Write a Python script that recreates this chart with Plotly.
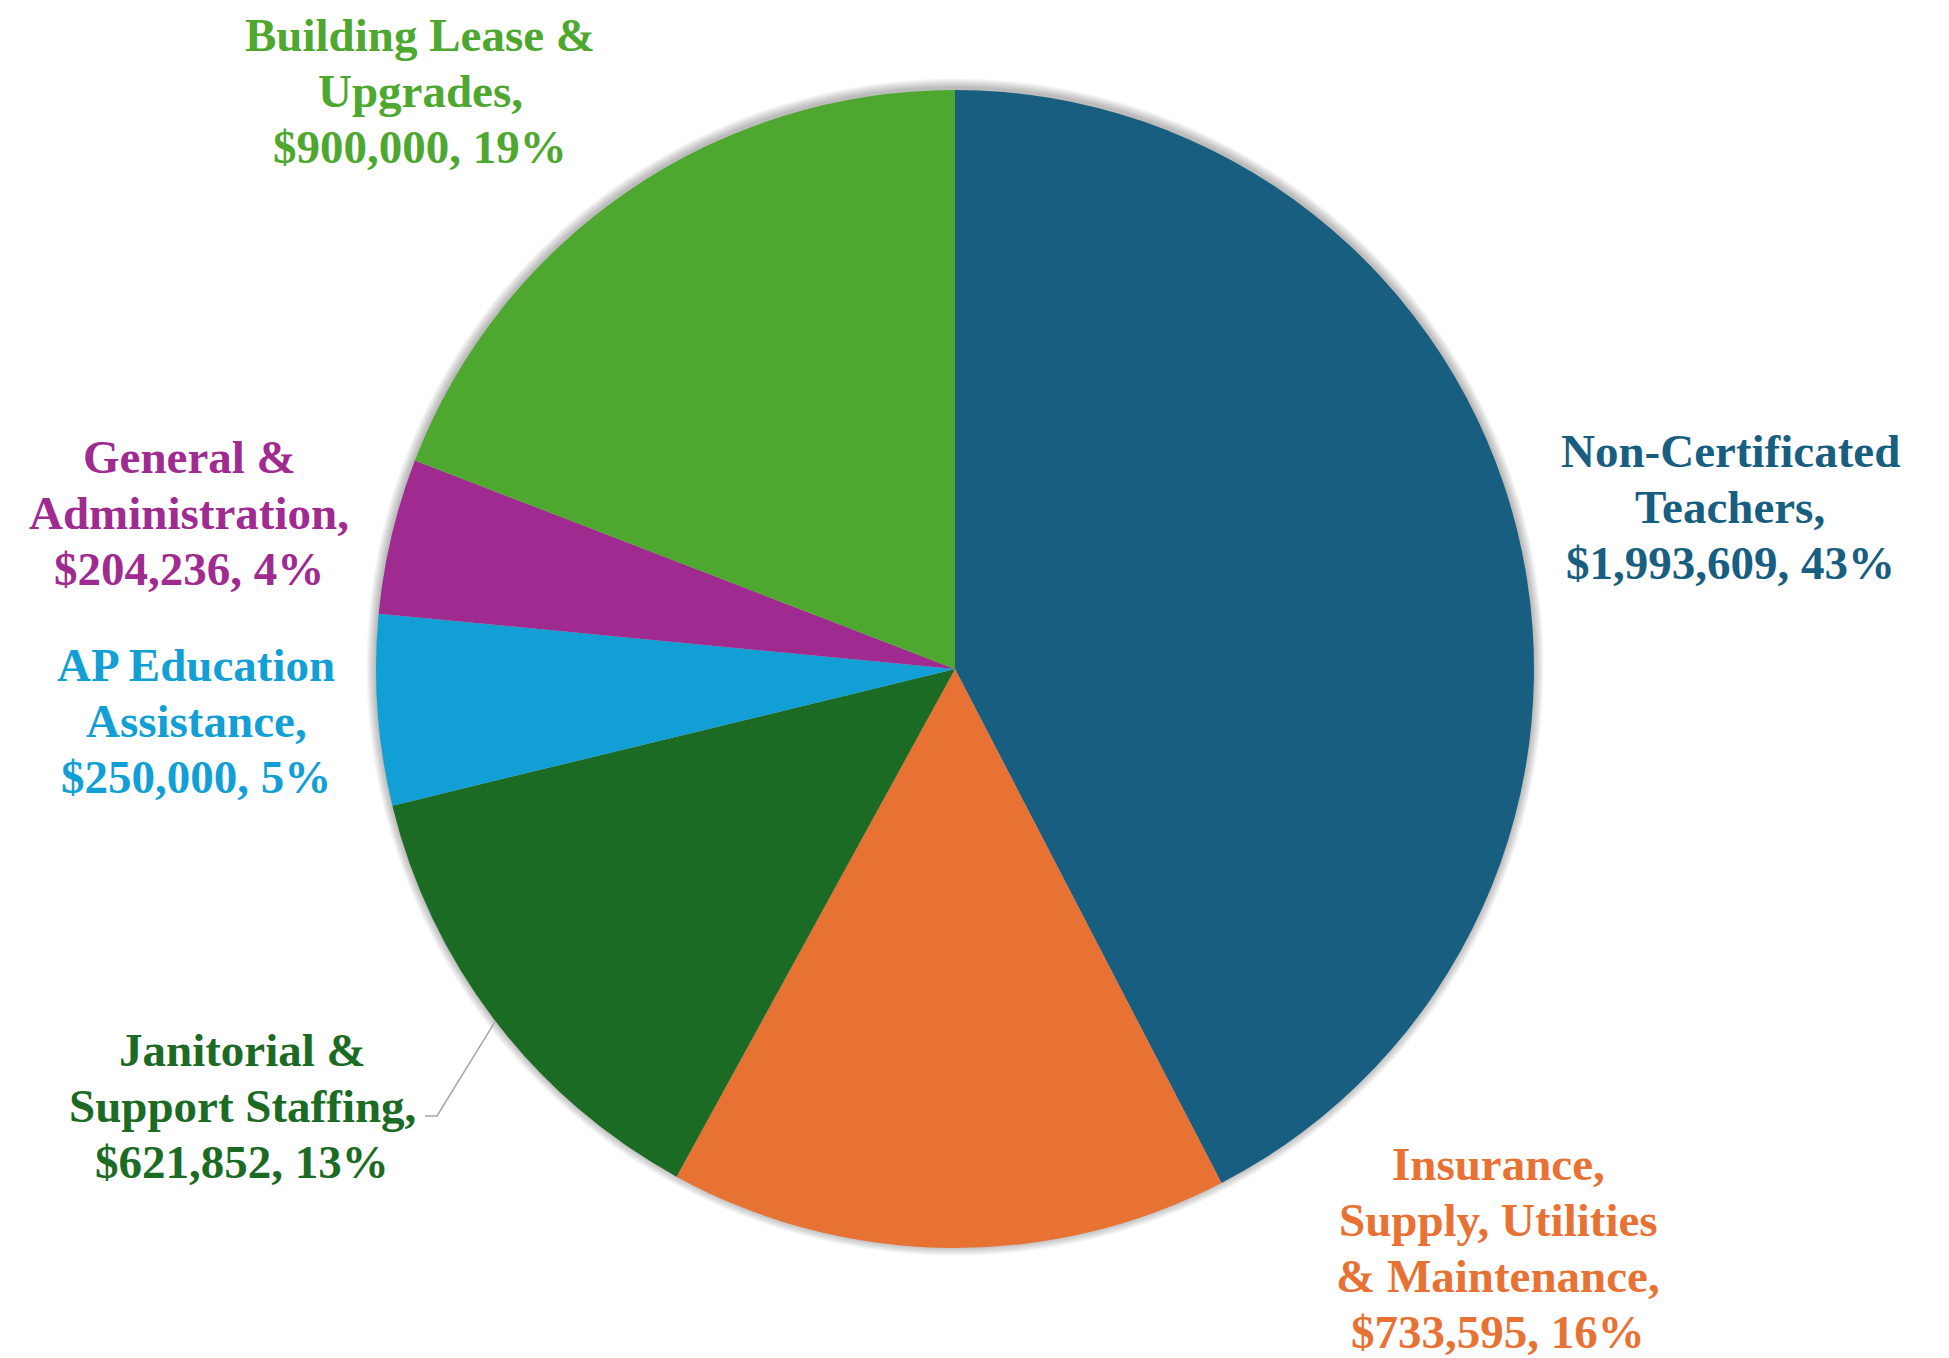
import math
import plotly.graph_objects as go

# ---- data ----
categories = [
    "Non-Certificated Teachers",
    "Insurance, Supply, Utilities & Maintenance",
    "Janitorial & Support Staffing",
    "AP Education Assistance",
    "General & Administration",
    "Building Lease & Upgrades",
]
label_lines = [
    ["Non-Certificated", "Teachers,"],
    ["Insurance,", "Supply, Utilities", "& Maintenance,"],
    ["Janitorial &", "Support Staffing,"],
    ["AP Education", "Assistance,"],
    ["General &", "Administration,"],
    ["Building Lease &", "Upgrades,"],
]
values = [1993609, 733595, 621852, 250000, 204236, 900000]
percent_labels = ["43%", "16%", "13%", "5%", "4%", "19%"]

# ---- styles / layout ----
colors = ["#175E80", "#E87234", "#1B6B24", "#119FD6", "#A02B90", "#4EA72F"]
W, H = 1949, 1358
CX, CY, R = 955, 669, 579
label_pos = [(1730, 451), (1498, 1164), (242, 1050), (196, 665), (189, 457), (420, 35)]
LINE_H = 56
FONT = "Liberation Serif, Times New Roman, serif"
FSIZE = 47

dom_x = [(CX - R) / W, (CX + R) / W]
dom_y = [1 - (CY + R) / H, 1 - (CY - R) / H]

fig = go.Figure(go.Pie(
    labels=categories,
    values=values,
    sort=False,
    direction="clockwise",
    rotation=0,
    marker=dict(colors=colors, line=dict(width=0)),
    textinfo="none",
    hoverinfo="none",
    showlegend=False,
    domain=dict(x=dom_x, y=dom_y),
))

annotations = []
for i, lines in enumerate(label_lines):
    full = lines + [f"${values[i]:,}, {percent_labels[i]}"]
    px, py = label_pos[i]
    for j, t in enumerate(full):
        annotations.append(dict(
            x=px / W, y=1 - (py + j * LINE_H) / H,
            xref="paper", yref="paper",
            xanchor="center", yanchor="middle",
            text=t, showarrow=False, borderpad=0,
            font=dict(family=FONT, size=FSIZE, color=colors[i], weight="bold"),
        ))

shapes = []
# soft shadow around pie
for k in range(8, 0, -1):
    rr = R + k * 1.2
    shapes.append(dict(
        type="circle", xref="paper", yref="paper", layer="below",
        x0=(CX - rr) / W, x1=(CX + rr) / W,
        y0=1 - (CY + rr - 2) / H, y1=1 - (CY - rr - 2) / H,
        fillcolor="rgba(0,0,0,0.035)", line=dict(width=0),
    ))

# leader line for Janitorial slice (computed from slice geometry)
total = sum(values)
idx = 2
cum = sum(values[:idx]) + values[idx] / 2
ang = 2 * math.pi * cum / total
sx = CX + R * math.sin(ang)
sy = CY - R * math.cos(ang)
ex, ey = 437, 1116
hx = 425
path = (f"M {sx / W} {1 - sy / H} L {ex / W} {1 - ey / H} "
        f"L {hx / W} {1 - ey / H}")
shapes.append(dict(type="path", xref="paper", yref="paper", path=path,
                   line=dict(color="#A6A6A6", width=1.5)))

fig.update_layout(
    width=W, height=H,
    margin=dict(l=0, r=0, t=0, b=0),
    paper_bgcolor="white", plot_bgcolor="white",
    annotations=annotations, shapes=shapes,
)
fig.write_html("out.html")
